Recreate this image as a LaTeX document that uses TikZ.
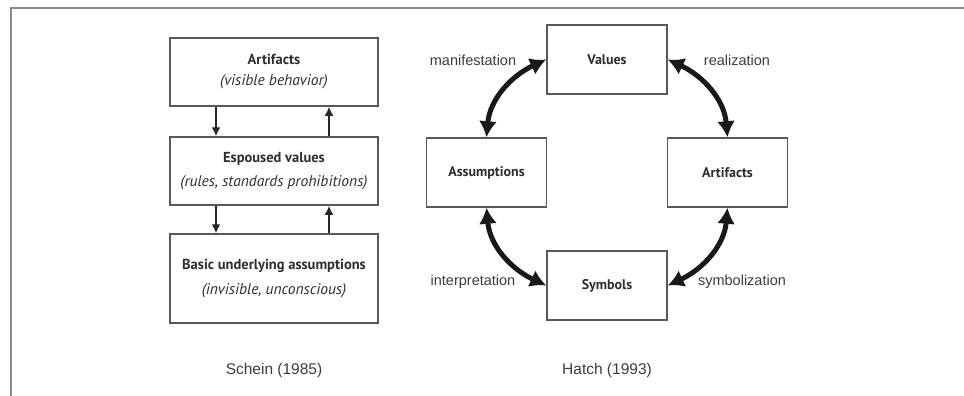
\documentclass[tikz,border=0pt]{standalone}
\usepackage{fontspec}
\setmainfont{Liberation Sans}
\newfontfamily\boxfont{PT Sans}
\usetikzlibrary{arrows.meta}
\definecolor{ink}{HTML}{2E2E2E}
\definecolor{labelink}{HTML}{3C3C3C}
\definecolor{frameline}{HTML}{8C8C8C}
\newcommand{\layertitle}[1]{{\bfseries\fontsize{14.5}{16}\selectfont #1}}
\newcommand{\layernote}[1]{{\itshape\fontsize{15.5}{16}\selectfont #1}}
\tikzset{
  layerbox/.style={draw=ink!80, line width=1.5pt, minimum width=208pt, align=center,
    font=\boxfont, text=ink, inner sep=0pt},
  cyclebox/.style={draw=ink!80, line width=1.5pt, minimum width=120pt, minimum height=69pt,
    font=\boxfont\bfseries\fontsize{14}{16}\selectfont, text=ink, inner sep=0pt},
  thinarrow/.style={-{Latex[length=9pt,width=9pt]}, line width=2pt, draw=black!85},
  cyclearrow/.style={{Latex[length=16pt,width=18pt]}-{Latex[length=16pt,width=18pt]},
    line width=5pt, draw=black!90},
  cyclelabel/.style={font=\fontsize{14.5}{16}\selectfont, text=labelink, inner sep=0pt},
  caption/.style={font=\fontsize{15.5}{17}\selectfont, text=labelink, inner sep=0pt}
}
\begin{document}
\begin{tikzpicture}[x=1pt,y=-1pt]
  \useasboundingbox (0,0) rectangle (964,396);
  % page frame
  \coordinate (ftop) at (11,8);
  \coordinate (fright) at (964,8);
  \coordinate (fbottom) at (11,396);
  \draw[frameline, line width=1.5pt] (fbottom) -- (ftop) -- (fright);

  % Schein (1985): three layers
  \node[layerbox, minimum height=68pt] (art) at (274,72)
    {\layertitle{Artifacts}\\[9pt]\layernote{(visible behavior)}};
  \node[layerbox, minimum height=68pt] (esp) at (274,171)
    {\layertitle{Espoused values}\\[9pt]\layernote{(rules, standards prohibitions)}};
  \node[layerbox, minimum height=89pt] (bua) at (274,278.5)
    {\layertitle{Basic underlying assumptions}\\[9pt]\layernote{(invisible, unconscious)}};
  \coordinate (dnx) at (216,0);
  \coordinate (upx) at (329,0);
  \draw[thinarrow] (art.south -| dnx) -- (esp.north -| dnx);
  \draw[thinarrow] (esp.north -| upx) -- (art.south -| upx);
  \draw[thinarrow] (esp.south -| dnx) -- (bua.north -| dnx);
  \draw[thinarrow] (bua.north -| upx) -- (esp.south -| upx);
  \node[caption] (schein) at (274,370) {Schein (1985)};

  % Hatch (1993): cultural dynamics cycle
  \node[cyclebox] (val) at (607,59.5) {Values};
  \node[cyclebox] (asm) at (486.5,172.5) {Assumptions};
  \node[cyclebox] (arf) at (727.5,172.5) {Artifacts};
  \node[cyclebox] (sym) at (607,285.5) {Symbols};
  \draw[cyclearrow] (val.west) to[out=205,in=85] (asm.north);
  \draw[cyclearrow] (val.east) to[out=-25,in=95] (arf.north);
  \draw[cyclearrow] (asm.south) to[out=-85,in=155] (sym.west);
  \draw[cyclearrow] (arf.south) to[out=-95,in=25] (sym.east);
  \node[cyclelabel] (lman) at (473,60) {manifestation};
  \node[cyclelabel] (lrea) at (737,60) {realization};
  \node[cyclelabel] (lint) at (473,282) {interpretation};
  \node[cyclelabel] (lsym) at (742,282) {symbolization};
  \node[caption] (hatch) at (607,370) {Hatch (1993)};
\end{tikzpicture}
\end{document}
